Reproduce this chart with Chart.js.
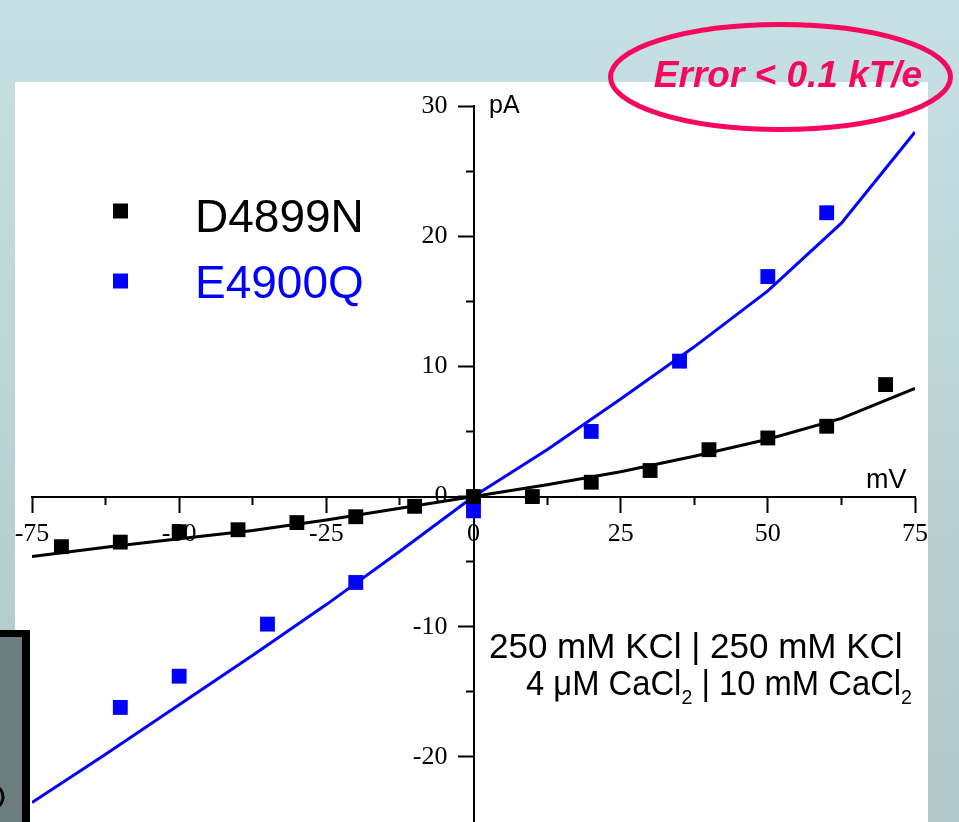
<!DOCTYPE html>
<html>
<head>
<meta charset="utf-8">
<script src="https://cdn.jsdelivr.net/npm/chart.js@4"></script>
<style>
  html, body { margin: 0; padding: 0; overflow: hidden; background: #c3dcdf; }
  canvas { display: block; }
</style>
</head>
<body>
<canvas id="iv" width="959" height="822"></canvas>
<script>
// axis ticks
const xTicks = [-75, -50, -25, 0, 25, 50, 75];
const xMinorTicks = [-62.5, -37.5, -12.5, 12.5, 37.5, 62.5];
const yTicks = [-20, -10, 0, 10, 20, 30];
const yMinorTicks = [-15, -5, 5, 15, 25];

// measured points (mV, pA)
const d4899nV = [-70, -60, -50, -40, -30, -20, -10, 0, 10, 20, 30, 40, 50, 60, 70];
const d4899nI = [-3.85, -3.5, -2.7, -2.55, -2.0, -1.55, -0.75, 0, 0, 1.1, 2.0, 3.6, 4.5, 5.4, 8.6];
const e4900qV = [-60, -50, -35, -20, 0, 20, 35, 50, 60];
const e4900qI = [-16.2, -13.8, -9.8, -6.6, -1.1, 5.0, 10.4, 16.9, 21.8];

// model curves
const fitV = [-75, -62.5, -50, -37.5, -25, -12.5, 0, 12.5, 25, 37.5, 50, 62.5, 75];
const d4899nFit = [-4.6, -3.9, -3.25, -2.6, -1.8, -0.9, 0, 0.9, 1.9, 3.1, 4.4, 6.0, 8.3];
const e4900qFit = [-23.5, -19.8, -16.0, -12.2, -8.3, -4.2, 0, 3.6, 7.5, 11.5, 15.8, 21.0, 28.0];

const pts = (xs, ys) => xs.map((v, i) => ({ x: v, y: ys[i] }));

const pink = '#f5095e';
const sans = 'Liberation Sans, Arial, sans-serif';
const serif = 'Liberation Serif, Times New Roman, serif';

const decor = {
  id: 'decor',
  beforeDraw(chart) {
    const c = chart.ctx;
    c.save();
    const g = c.createLinearGradient(0, 0, 0, chart.height);
    g.addColorStop(0, '#c6e0e3');
    g.addColorStop(1, '#b1c7c9');
    c.fillStyle = g;
    c.fillRect(0, 0, chart.width, chart.height);
    c.fillStyle = '#fff';
    c.fillRect(15, 82, 913, 740);
    // box at lower left
    c.fillStyle = '#000';
    c.fillRect(0, 630, 30, 192);
    c.fillStyle = '#6b7f7f';
    c.fillRect(0, 637, 22, 185);
    c.strokeStyle = '#000';
    c.lineWidth = 3;
    c.beginPath();
    c.arc(-9, 797, 12, -1.3, 1.3);
    c.stroke();
    c.restore();
  },
  afterDraw(chart) {
    const c = chart.ctx;
    c.save();
    // axis units
    c.fillStyle = '#000';
    c.textBaseline = 'alphabetic';
    c.font = '25px ' + sans;
    c.fillText('pA', 489, 113);
    c.font = '27px ' + sans;
    c.fillText('mV', 866, 488);

    // legend
    const ds = chart.data.datasets;
    c.font = '46px ' + sans;
    [[ds[0], 211, 232], [ds[1], 281, 298]].forEach(([d, sy, by]) => {
      c.fillStyle = d.backgroundColor;
      c.fillRect(113, sy - 7.5, 15, 15);
      c.fillText(d.label, 195, by);
    });

    // conditions
    c.fillStyle = '#000';
    c.font = '35px ' + sans;
    c.fillText('250 mM KCl | 250 mM KCl', 489, 658);
    const parts = [['4 \u03bcM CaCl', 0], ['2', 1], [' | 10 mM CaCl', 0], ['2', 1]];
    const fontOf = sub => sub ? '21px ' + sans : '35px ' + sans;
    let w = 0;
    parts.forEach(([t, sub]) => { c.font = fontOf(sub); w += c.measureText(t).width; });
    c.translate(526, 0);
    c.scale(386 / w, 1);
    let x = 0;
    parts.forEach(([t, sub]) => {
      c.font = fontOf(sub);
      c.fillText(t, x, sub ? 704 : 695);
      x += c.measureText(t).width;
    });
    c.setTransform(1, 0, 0, 1, 0, 0);

    // error ellipse
    c.strokeStyle = pink;
    c.lineWidth = 5;
    c.beginPath();
    c.ellipse(780.5, 77, 170, 52.5, 0, 0, Math.PI * 2);
    c.stroke();
    c.fillStyle = pink;
    c.font = 'italic bold 37px ' + sans;
    c.textAlign = 'center';
    c.fillText('Error < 0.1 kT/e', 788, 87);
    c.restore();
  }
};

const tickFont = { family: serif, size: 26 };
const noPadX = s => { s.paddingLeft = 0; s.paddingRight = 0; };
const noPadY = s => { s.paddingTop = 0; s.paddingBottom = 0; };

new Chart(document.getElementById('iv'), {
  type: 'scatter',
  data: {
    datasets: [
      {
        label: 'D4899N',
        data: pts(d4899nV, d4899nI),
        pointStyle: 'rect',
        pointRadius: 10.5,
        pointBorderWidth: 0,
        backgroundColor: '#000000',
        borderColor: '#000000',
        order: 0
      },
      {
        label: 'E4900Q',
        data: pts(e4900qV, e4900qI),
        pointStyle: 'rect',
        pointRadius: 10.5,
        pointBorderWidth: 0,
        backgroundColor: '#0000ff',
        borderColor: '#0000ff',
        order: 0
      },
      {
        label: 'D4899N fit',
        data: pts(fitV, d4899nFit),
        showLine: true,
        borderColor: '#000000',
        borderWidth: 3,
        pointRadius: 0,
        order: 1
      },
      {
        label: 'E4900Q fit',
        data: pts(fitV, e4900qFit),
        showLine: true,
        borderColor: '#0000ff',
        borderWidth: 3,
        pointRadius: 0,
        order: 1
      }
    ]
  },
  options: {
    responsive: false,
    animation: false,
    layout: { autoPadding: false, padding: { left: 32, right: 44, top: 106, bottom: 0 } },
    plugins: { legend: { display: false }, tooltip: { enabled: false } },
    scales: {
      x: {
        type: 'linear', min: -75, max: 75, position: { y: 0 },
        afterBuildTicks: s => { s.ticks = xTicks.map(v => ({ value: v })); },
        afterFit: noPadX,
        grid: { drawOnChartArea: false, tickLength: 15, tickWidth: 2, tickColor: '#000' },
        border: { display: true, color: '#000', width: 2 },
        ticks: { autoSkip: false, maxRotation: 0, padding: 7, color: '#000', font: tickFont }
      },
      x2: {
        type: 'linear', axis: 'x', min: -75, max: 75, position: { y: 0 },
        afterBuildTicks: s => { s.ticks = xMinorTicks.map(v => ({ value: v })); },
        afterFit: noPadX,
        grid: { drawOnChartArea: false, tickLength: 8, tickWidth: 2, tickColor: '#000' },
        border: { display: false },
        ticks: { display: false }
      },
      y: {
        type: 'linear', min: -25, max: 30, position: { x: 0 },
        afterBuildTicks: s => { s.ticks = yTicks.map(v => ({ value: v })); },
        afterFit: noPadY,
        grid: { drawOnChartArea: false, tickLength: 15, tickWidth: 2, tickColor: '#000' },
        border: { display: true, color: '#000', width: 2 },
        // labels of a centred y axis sit on the axis line; trailing spaces push them left
        ticks: { autoSkip: false, color: '#000', font: tickFont, callback: v => v + '\u2002\u2002' }
      },
      y2: {
        type: 'linear', axis: 'y', min: -25, max: 30, position: { x: 0 },
        afterBuildTicks: s => { s.ticks = yMinorTicks.map(v => ({ value: v })); },
        afterFit: noPadY,
        grid: { drawOnChartArea: false, tickLength: 8, tickWidth: 2, tickColor: '#000' },
        border: { display: false },
        ticks: { display: false }
      }
    }
  },
  plugins: [decor]
});
</script>
</body>
</html>
